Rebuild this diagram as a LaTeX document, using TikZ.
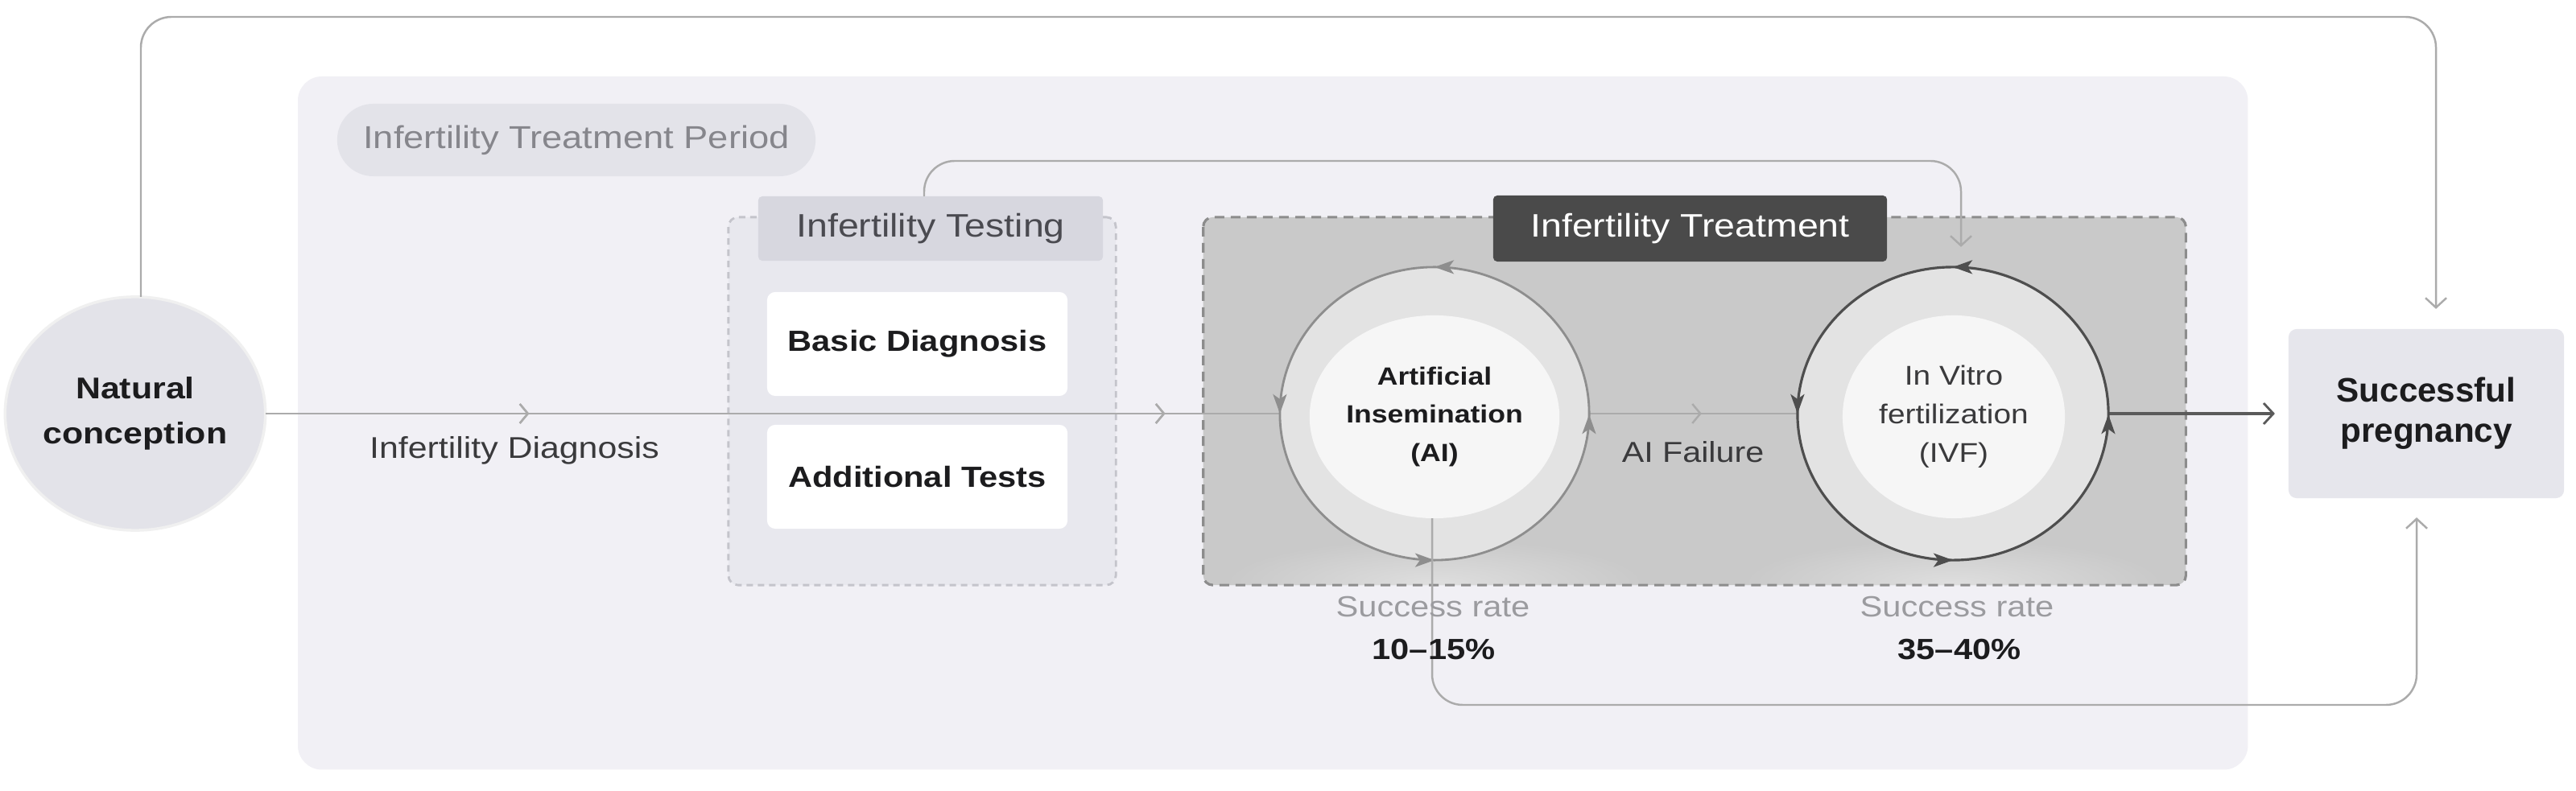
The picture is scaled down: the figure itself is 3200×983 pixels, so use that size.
\documentclass[tikz,border=0pt]{standalone}
\usepackage{fontspec}
\setmainfont[FakeStretch=1.15]{Liberation Sans}
\newfontfamily\arialfont{Liberation Sans}
\usetikzlibrary{arrows.meta,decorations.markings,calc,shapes.geometric}
\definecolor{periodbg}{HTML}{F1F0F5}
\definecolor{pillbg}{HTML}{E3E3E9}
\definecolor{pilltxt}{HTML}{86868C}
\definecolor{testbg}{HTML}{E8E8EE}
\definecolor{testdash}{HTML}{C4C4CB}
\definecolor{testhead}{HTML}{D7D7DF}
\definecolor{testheadtxt}{HTML}{4A4A50}
\definecolor{treatbg}{HTML}{C9C9C9}
\definecolor{treatdash}{HTML}{8C8C8C}
\definecolor{treathead}{HTML}{4A4A4A}
\definecolor{ringbg}{HTML}{E3E3E3}
\definecolor{corebg}{HTML}{F6F6F6}
\definecolor{aistroke}{HTML}{8E8E8E}
\definecolor{ivfstroke}{HTML}{4E4E4E}
\definecolor{linegray}{HTML}{ABABAB}
\definecolor{darkline}{HTML}{5A5A5A}
\definecolor{ncbg}{HTML}{E3E3E9}
\definecolor{succbg}{HTML}{E6E6EC}
\definecolor{txtdark}{HTML}{1C1C1E}
\definecolor{txtmid}{HTML}{3A3A3C}
\definecolor{ratetxt}{HTML}{9B9B9F}
\newcommand\myfs[2]{\fontsize{#1pt}{#2pt}\selectfont}
\tikzset{
  plain/.style={inner sep=0pt, outer sep=0pt, align=center},
  flowline/.style={draw=linegray, line width=0.8pt},
  loopline/.style={draw=linegray, line width=0.7pt, rounded corners=0.38cm},
  barb/.style={-{Straight Barb[length=0.12cm,width=0.26cm,line width=0.7pt]}},
  midtick/.style={postaction={decorate}, decoration={markings,
     mark=at position #1 with {\arrow[linegray]{Straight Barb[length=0.1cm,width=0.24cm,line width=0.7pt]}}}},
  ringmarks/.style={postaction={decorate}, decoration={markings,
     mark=at position 0.25 with {\arrow[#1]{Stealth[length=0.24cm,width=0.17cm,inset=0.06cm]}},
     mark=at position 0.5 with {\arrow[#1]{Stealth[length=0.24cm,width=0.17cm,inset=0.06cm]}},
     mark=at position 0.75 with {\arrow[#1]{Stealth[length=0.24cm,width=0.17cm,inset=0.06cm]}},
     mark=at position 0.999 with {\arrow[#1]{Stealth[length=0.24cm,width=0.17cm,inset=0.06cm]}}}},
}
\begin{document}
\begin{tikzpicture}[x=0.01cm,y=-0.01cm]
\useasboundingbox[fill=white] (0,0) rectangle (3200,983);

% period container
\node[plain, fill=periodbg, rounded corners=0.3cm, minimum width=24.21cm, minimum height=8.61cm, anchor=north west] (period) at (370,95) {};
\node[plain, fill=pillbg, rounded corners=0.45cm, minimum width=5.94cm, minimum height=0.9cm, text=pilltxt, font=\myfs{11.2}{13}] (pill) at (716,174) {Infertility Treatment Period};

% testing group
\node[plain, fill=testbg, draw=testdash, line width=0.8pt, dash pattern=on 0.08cm off 0.06cm, rounded corners=0.12cm, minimum width=4.81cm, minimum height=4.57cm] (test) at (1145.5,498.5) {};
\node[plain, fill=testhead, rounded corners=0.05cm, minimum width=4.28cm, minimum height=0.8cm, text=testheadtxt, font=\myfs{11.5}{13}] (thead) at (1156,284) {Infertility Testing};
\node[plain, fill=white, rounded corners=0.1cm, minimum width=3.73cm, minimum height=1.29cm, text=txtdark, font=\bfseries\myfs{10.3}{12}] (basic) at (1139.5,427.5) {Basic Diagnosis};
\node[plain, fill=white, rounded corners=0.1cm, minimum width=3.73cm, minimum height=1.29cm, text=txtdark, font=\bfseries\myfs{10.3}{12}] (addt) at (1139.5,592.5) {Additional Tests};

% treatment group
\node[plain, fill=treatbg, rounded corners=0.12cm, minimum width=12.2cm, minimum height=4.57cm] (treat) at (2105,498.5) {};
\begin{scope}
\clip[rounded corners=0.12cm] (treat.north west) rectangle (treat.south east);
\shade[inner color=black!13, outer color=treatbg] (1782,725) ellipse [x radius=2.6cm, y radius=0.55cm];
\shade[inner color=black!13, outer color=treatbg] (2426,725) ellipse [x radius=2.6cm, y radius=0.55cm];
\end{scope}
\draw[draw=treatdash, line width=0.9pt, dash pattern=on 0.12cm off 0.08cm, rounded corners=0.12cm] (treat.north west) rectangle (treat.south east);
\node[plain, fill=treathead, rounded corners=0.05cm, minimum width=4.89cm, minimum height=0.82cm, text=white, font=\myfs{11.5}{13}] (thd) at (2099.5,284) {Infertility Treatment};

% start / end nodes
\node[plain, ellipse, fill=ncbg, draw=black!6, line width=1pt, minimum width=3.08cm, minimum height=2.9cm, text=txtdark, font=\bfseries\myfs{10.6}{16}] (nc) at (168,514) {Natural\\conception};
\node[plain, fill=succbg, rounded corners=0.1cm, minimum width=3.42cm, minimum height=2.1cm, text=txtdark, font=\arialfont\bfseries\myfs{12}{14.2}] (succ) at (3014,514) {Successful\\pregnancy};

% rings
\node[plain, ellipse, fill=ringbg, minimum width=3.84cm, minimum height=3.64cm] (ai) at (1782,514) {};
\node[plain, ellipse, fill=ringbg, minimum width=3.86cm, minimum height=3.64cm] (ivf) at (2426,514) {};

% main flow
\draw[flowline, midtick=0.26, midtick=0.887] (nc.east) -- (ai.west);
\draw[flowline, midtick=0.54] (ai.east) -- (ivf.west);
\draw[draw=darkline, line width=0.9pt, -{Straight Barb[length=0.12cm,width=0.26cm,line width=0.8pt]}, shorten >=0.17cm] (ivf.east) -- (succ.west);

\draw[draw=aistroke, line width=0.8pt, ringmarks=aistroke] (ai.center) ellipse [x radius=1.92cm, y radius=1.82cm];
\draw[draw=ivfstroke, line width=0.9pt, ringmarks=ivfstroke] (ivf.center) ellipse [x radius=1.93cm, y radius=1.82cm];
\node[plain, ellipse, fill=corebg, minimum width=2.76cm, minimum height=2.52cm, text=txtdark, font=\bfseries\myfs{8.8}{13.6}] (aicore) at (1782,518) {Artificial\\Insemination\\(AI)};
\node[plain, ellipse, fill=corebg, minimum width=2.76cm, minimum height=2.52cm, text=txtmid, font=\myfs{9.6}{13.6}] (ivfcore) at (2427,518) {In Vitro\\fertilization\\(IVF)};

% loops
\coordinate (t1) at (3026,21);
\coordinate (t2) at (2436,200);
\coordinate (t3) at (3002,876);
\draw[loopline, barb, shorten >=0.25cm] ($(nc.north)+(7,0)$) |- (t1) -- ($(succ.north)+(12,0)$);
\draw[loopline, barb, shorten >=0.25cm] ($(thead.north)+(-8,0)$) |- (t2) -- ($(ivf.north)+(10,0)$);
\draw[loopline, barb, shorten >=0.24cm] ($(aicore.south)+(-3,0)$) |- (t3) -- ($(succ.south)+(-12,0)$);

% labels
\node[plain, text=txtmid, font=\myfs{10.6}{12}] (diag) at (639,560) {Infertility Diagnosis};
\node[plain, text=txtmid, font=\myfs{10.2}{12}] (fail) at (2103,562) {AI Failure};
\node[plain, text=ratetxt, font=\myfs{10.3}{12}] (airate) at (1780,754) {Success rate};
\node[plain, text=txtdark, font=\bfseries\myfs{10.3}{12}] (aipct) at (1781,807) {10--15\%};
\node[plain, text=ratetxt, font=\myfs{10.3}{12}] (ivfrate) at (2431,754) {Success rate};
\node[plain, text=txtdark, font=\bfseries\myfs{10.3}{12}] (ivfpct) at (2434,807) {35--40\%};
\end{tikzpicture}
\end{document}
